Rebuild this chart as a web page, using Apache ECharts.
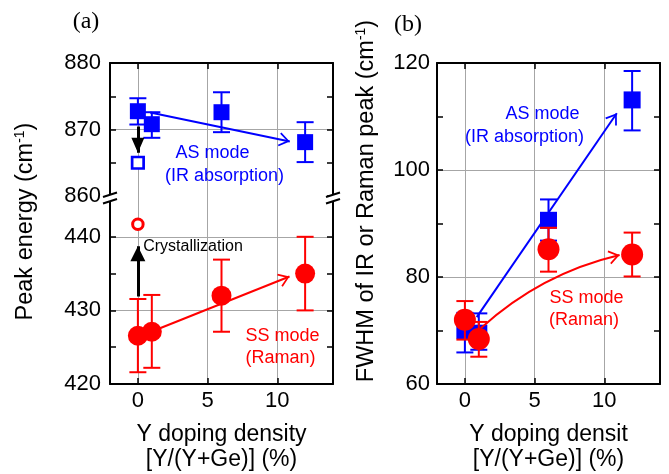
<!DOCTYPE html>
<html><head><meta charset="utf-8">
<script src="https://cdn.jsdelivr.net/npm/echarts@6/dist/echarts.min.js"></script>
<style>html,body{margin:0;padding:0;background:#fff}#c{width:669px;height:474px}</style>
</head><body><div id="c"></div>
<script>
// ---------- data ----------
const dopingX = [0, 1, 6, 12];
const xTicks = [0, 5, 10];
const yTicksTop = [860, 870, 880];
const yTicksBottom = [420, 430, 440];
const yTicksB = [60, 80, 100, 120];
// (a) peak energy
const asPeak = [872.75, 870.8, 872.6, 868.1];
const asPeakLo = [870.75, 868.75, 869.6, 865.1];
const asPeakHi = [874.7, 872.6, 875.6, 871.1];
const ssPeak = [426.55, 427.1, 432.0, 435.0];
const ssPeakLo = [421.6, 422.2, 427.1, 430.0];
const ssPeakHi = [431.55, 432.1, 436.9, 440.0];
const crystX = [0];
const asCrystPeak = [865.0];
const ssCrystPeak = [441.7];
// (b) FWHM
const asFwhm = [70.0, 69.5, 90.6, 113.1];
const asFwhmLo = [65.9, 66.4, 86.8, 107.4];
const asFwhmHi = [73.3, 73.2, 94.5, 118.5];
const ssFwhm = [72.0, 68.4, 85.2, 84.2];
const ssFwhmLo = [68.3, 65.1, 81.0, 80.1];
const ssFwhmHi = [75.5, 71.6, 89.2, 88.3];
// annotation arrows (data coordinates)
const asShiftArrow = [[0.88, 872.55], [10.9, 868.2]];
const asCrystArrow = [[0, 870.45], [0, 866.5]];
const ssCrystArrow = [[0, 431.9], [0, 438.7]];
const ssShiftArrow = [[1.36, 427.4], [10.88, 434.6]];
const asWidthArrow = [[0.85, 72.5], [10.9, 110.6]];
const ssWidthArrow = [[1.14, 70.4], [11.1, 84.1]];

// ---------- helpers ----------
const FONT = 'Liberation Sans';
const BLUE = '#0000ff', RED = '#ff0000';
const zip = (xs, ys) => xs.map((x, i) => [x, ys[i]]);
const errData = (xs, lo, hi) => xs.map((x, i) => [x, lo[i], hi[i]]);
const CHEVRON = 'path://M0,0 L7,10 L5.5,11 L0,3 L-5.5,11 L-7,10 Z M0,-11 L0.01,-11 L0,-10.99 Z';
const TRI = 'path://M0,0 L7,15 L-7,15 Z M0,-15 L0.01,-15 L0,-14.99 Z';

function errBar(color) {
  return function (params, api) {
    const x = api.value(0);
    const a = api.coord([x, api.value(1)]);
    const b = api.coord([x, api.value(2)]);
    const w = 8.5;
    const st = { stroke: color, lineWidth: 2 };
    return { type: 'group', children: [
      { type: 'line', shape: { x1: a[0], y1: a[1], x2: b[0], y2: b[1] }, style: st },
      { type: 'line', shape: { x1: a[0] - w, y1: a[1], x2: a[0] + w, y2: a[1] }, style: st },
      { type: 'line', shape: { x1: b[0] - w, y1: b[1], x2: b[0] + w, y2: b[1] }, style: st }
    ] };
  };
}
function arrowSeries(xi, yi, pts, color, width, head, size, curveness, z) {
  return {
    type: 'lines', coordinateSystem: 'cartesian2d', xAxisIndex: xi, yAxisIndex: yi,
    silent: true, animation: false, z: z || 6,
    symbol: ['none', head], symbolSize: [[1, 1], size],
    lineStyle: { color: color, width: width, type: 'solid', curveness: curveness || 0, opacity: 1 },
    itemStyle: { color: color },
    data: [{ coords: pts }]
  };
}
const tickStyle = { color: '#000', width: 1.5 };
const axLine = { show: true, onZero: false, lineStyle: { color: '#000', width: 2 } };
const grayLine = { color: '#a6a6a6', width: 1 };
function xAxisDef(gi, pos, opt) {
  return Object.assign({
    type: 'value', gridIndex: gi, position: pos, min: -2, max: 14, minInterval: 5, maxInterval: 5,
    axisLine: axLine,
    axisTick: { show: true, inside: true, length: 6, lineStyle: tickStyle, customValues: xTicks },
    axisLabel: { show: false, customValues: xTicks },
    splitLine: { show: false }
  }, opt);
}
const xLabel = { show: true, customValues: xTicks, fontSize: 22, fontFamily: FONT, color: '#000', margin: 6,
  formatter: v => (v % 5 === 0 ? String(v) : '') };
const xName = { fontSize: 23, fontFamily: FONT, color: '#000', lineHeight: 25 };
function yAxisDef(gi, pos, min, max, step, ticks, labels, split) {
  return {
    type: 'value', gridIndex: gi, position: pos, min: min, max: max, minInterval: step, maxInterval: step,
    axisLine: axLine,
    axisTick: { show: true, inside: true, length: 6, lineStyle: tickStyle, customValues: ticks },
    minorTick: { show: true, splitNumber: 2, length: 6, lineStyle: tickStyle },
    axisLabel: labels ? { show: true, customValues: ticks, fontSize: 22, fontFamily: FONT, color: '#000', margin: labels,
      formatter: v => (v % step === 0 ? String(v) : '') } : { show: false },
    splitLine: split ? Object.assign({ show: true, lineStyle: grayLine }, split) : { show: false }
  };
}
function breakMark(ax, cy) {
  return [
    { type: 'polygon', z: 100, shape: { points: [[ax - 7, cy + 1.5], [ax + 7, cy - 3], [ax + 7, cy + 3.5], [ax - 7, cy + 8]] }, style: { fill: '#fff' } },
    { type: 'line', z: 101, shape: { x1: ax - 7, y1: cy + 1.5, x2: ax + 7, y2: cy - 3 }, style: { stroke: '#000', lineWidth: 2 } },
    { type: 'line', z: 101, shape: { x1: ax - 7, y1: cy + 8, x2: ax + 7, y2: cy + 3.5 }, style: { stroke: '#000', lineWidth: 2 } }
  ];
}
function txt(s, x, y, size, color, family) {
  return { type: 'text', x: x, y: y, z: 50,
    style: { text: s, fontSize: size, fontFamily: family || FONT, fill: color || '#000', align: 'center', verticalAlign: 'middle' } };
}
function yTitle(main, x, y) {
  return { type: 'text', x: x, y: y, z: 50, rotation: Math.PI / 2,
    style: { text: '{m|' + main + '(cm}{s|-1}{m|)}', align: 'center', verticalAlign: 'middle',
      rich: { m: { fontSize: 23.5, fontFamily: FONT, fill: '#000', lineHeight: 26 },
              s: { fontSize: 14, fontFamily: FONT, fill: '#000', verticalAlign: 'top', lineHeight: 14 } } } };
}

const option = {
  animation: false,
  backgroundColor: '#fff',
  grid: [
    { left: 110, top: 63, width: 223, height: 137, containLabel: false, outerBoundsMode: 'none' },
    { left: 110, top: 200, width: 223, height: 184, containLabel: false, outerBoundsMode: 'none' },
    { left: 437, top: 63, width: 223, height: 321, containLabel: false, outerBoundsMode: 'none' }
  ],
  xAxis: [
    xAxisDef(0, 'bottom', { axisLine: { show: false, onZero: false }, axisTick: { show: false, customValues: xTicks }, splitLine: { show: true, lineStyle: grayLine } }),
    xAxisDef(0, 'top', {}),
    xAxisDef(1, 'bottom', { axisLabel: xLabel, splitLine: { show: true, lineStyle: grayLine },
      name: 'Y doping density\n[Y/(Y+Ge)] (%)', nameLocation: 'middle', nameGap: 38, nameTextStyle: xName, nameMoveOverlap: false }),
    xAxisDef(2, 'bottom', { axisLabel: xLabel, splitLine: { show: true, lineStyle: grayLine },
      name: 'Y doping densit\n[Y/(Y+Ge)] (%)', nameLocation: 'middle', nameGap: 38, nameTextStyle: xName, nameMoveOverlap: false }),
    xAxisDef(2, 'top', {})
  ],
  yAxis: [
    yAxisDef(0, 'left', 859.4, 880, 10, yTicksTop, 9, { showMinLine: false, showMaxLine: false }),
    yAxisDef(0, 'right', 859.4, 880, 10, yTicksTop, 0, null),
    yAxisDef(1, 'left', 420, 445, 10, yTicksBottom, 9, { showMinLine: false }),
    yAxisDef(1, 'right', 420, 445, 10, yTicksBottom, 0, null),
    yAxisDef(2, 'left', 60, 120, 20, yTicksB, 7, { showMinLine: false, showMaxLine: false }),
    yAxisDef(2, 'right', 60, 120, 20, yTicksB, 0, null)
  ],
  series: [
    { type: 'custom', name: 'AS err a', xAxisIndex: 0, yAxisIndex: 0, data: errData(dopingX, asPeakLo, asPeakHi),
      renderItem: errBar(BLUE), encode: { x: 0, y: [1, 2] }, silent: true, clip: false, z: 2 },
    { type: 'scatter', name: 'AS a', xAxisIndex: 0, yAxisIndex: 0, data: zip(dopingX, asPeak),
      symbol: 'rect', symbolSize: 16, itemStyle: { color: BLUE, opacity: 1 }, silent: true, z: 3 },
    { type: 'scatter', name: 'AS cryst', xAxisIndex: 0, yAxisIndex: 0, data: zip(crystX, asCrystPeak),
      symbol: 'rect', symbolSize: 11.5, itemStyle: { color: '#fff', borderColor: BLUE, borderWidth: 2.7, opacity: 1 }, silent: true, z: 3 },
    { type: 'custom', name: 'SS err a', xAxisIndex: 2, yAxisIndex: 2, data: errData(dopingX, ssPeakLo, ssPeakHi),
      renderItem: errBar(RED), encode: { x: 0, y: [1, 2] }, silent: true, clip: false, z: 2 },
    { type: 'scatter', name: 'SS a', xAxisIndex: 2, yAxisIndex: 2, data: zip(dopingX, ssPeak),
      symbol: 'circle', symbolSize: 20, itemStyle: { color: RED, opacity: 1 }, silent: true, z: 3 },
    { type: 'scatter', name: 'SS cryst', xAxisIndex: 2, yAxisIndex: 2, data: zip(crystX, ssCrystPeak),
      symbol: 'circle', symbolSize: 10.5, itemStyle: { color: '#fff', borderColor: RED, borderWidth: 3, opacity: 1 }, silent: true, z: 3 },
    { type: 'custom', name: 'AS err b', xAxisIndex: 3, yAxisIndex: 4, data: errData(dopingX, asFwhmLo, asFwhmHi),
      renderItem: errBar(BLUE), encode: { x: 0, y: [1, 2] }, silent: true, clip: false, z: 2 },
    { type: 'scatter', name: 'AS b', xAxisIndex: 3, yAxisIndex: 4, data: zip(dopingX, asFwhm),
      symbol: 'rect', symbolSize: 17, itemStyle: { color: BLUE, opacity: 1 }, silent: true, z: 3 },
    { type: 'custom', name: 'SS err b', xAxisIndex: 3, yAxisIndex: 4, data: errData(dopingX, ssFwhmLo, ssFwhmHi),
      renderItem: errBar(RED), encode: { x: 0, y: [1, 2] }, silent: true, clip: false, z: 4 },
    { type: 'scatter', name: 'SS b', xAxisIndex: 3, yAxisIndex: 4, data: zip(dopingX, ssFwhm),
      symbol: 'circle', symbolSize: 22, itemStyle: { color: RED, opacity: 1 }, silent: true, z: 5 },
    arrowSeries(0, 0, asShiftArrow, BLUE, 2, CHEVRON, [14, 22], 0, 6),
    arrowSeries(0, 0, asCrystArrow, '#000', 3, TRI, [13, 30], 0, 6),
    arrowSeries(2, 2, ssCrystArrow, '#000', 3, TRI, [15, 30], 0, 6),
    arrowSeries(2, 2, ssShiftArrow, RED, 2, CHEVRON, [14, 22], 0, 6),
    arrowSeries(3, 4, asWidthArrow, BLUE, 2, CHEVRON, [14, 22], 0, 4),
    arrowSeries(3, 4, ssWidthArrow, RED, 2, CHEVRON, [14, 22], 0.13, 6)
  ],
  graphic: [].concat(
    breakMark(110, 195.5), breakMark(333, 195.5),
    [
      txt('(a)', 86, 22, 24, '#000', 'Liberation Serif'),
      txt('(b)', 408, 25, 24, '#000', 'Liberation Serif'),
      txt('AS mode', 212.5, 152.7, 18, BLUE),
      txt('(IR absorption)', 224.5, 175.7, 18, BLUE),
      txt('Crystallization', 193, 247, 16, '#000'),
      txt('SS mode', 282.5, 336, 18, RED),
      txt('(Raman)', 280.5, 358, 18, RED),
      txt('AS mode', 542.5, 114, 18, BLUE),
      txt('(IR absorption)', 524.5, 137, 18, BLUE),
      txt('SS mode', 586.5, 297.7, 18, RED),
      txt('(Raman)', 584, 320, 18, RED),
      yTitle('Peak energy ', 26, 221.5),
      yTitle('FWHM of IR or Raman peak ', 367, 201)
    ]
  )
};
const chart = echarts.init(document.getElementById('c'), null, { renderer: 'canvas', width: 669, height: 474 });
chart.setOption(option);
</script>
</body></html>
